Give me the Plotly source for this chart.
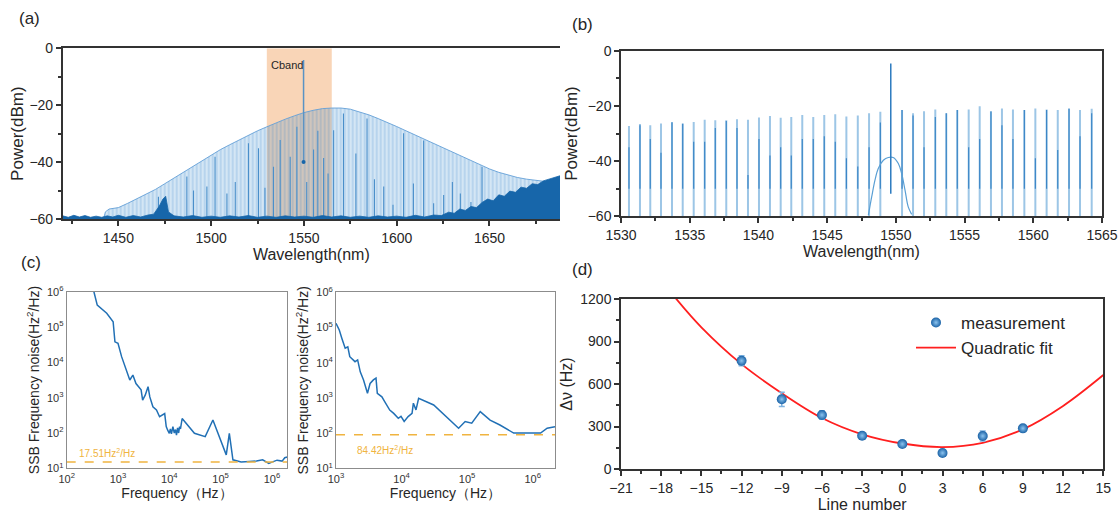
import plotly.graph_objects as go

W, H = 1120, 515
FONT = "Liberation Sans, Arial, Helvetica, sans-serif"
INK = "#262626"

# ---------------- (a) broadband comb spectrum ----------------
a_xticks = [1450, 1500, 1550, 1600, 1650]
cband = [1530, 1565]
a_floor = -60
a_env_wl = [1442, 1443, 1445, 1450, 1455, 1460, 1465, 1470, 1475, 1480, 1485, 1490, 1495,
            1500, 1505, 1510, 1515, 1520, 1525, 1530, 1535, 1540, 1545, 1550, 1555, 1560,
            1565, 1570, 1575, 1580, 1585, 1590, 1595, 1600, 1605, 1610, 1615, 1620, 1625,
            1630, 1635, 1640, 1645, 1650, 1655, 1660, 1665, 1670, 1675, 1680, 1681]
a_env_pw = [-60, -57.5, -56.5, -56, -54.5, -52.8, -51.2, -49.6, -47.6, -45.6, -43.4, -41.3, -39.3,
            -37.4, -35.6, -33.9, -32.2, -30.5, -29, -27.6, -26.2, -24.9, -23.7, -22.6, -21.8, -21.2,
            -21.0, -21.0, -21.4, -22.3, -23.4, -24.7, -26.0, -27.5, -29.0, -30.5, -32.0, -33.5, -35.0,
            -36.6, -38.1, -39.6, -41.0, -42.4, -43.6, -44.6, -45.4, -46.0, -46.5, -46.8, -60]
a_dark_wl = [1471.6, 1474.3, 1486.9, 1490.5, 1497.7, 1502.1, 1508.5, 1513.0, 1520.1, 1525.5,
             1529.0, 1533.6, 1537.2, 1542.6, 1546.2, 1551.5, 1555.2, 1557.5, 1560.6, 1563.0,
             1566.0, 1571.3, 1578.0, 1584.0, 1588.0, 1593.0, 1598.0, 1603.7, 1609.0, 1614.5,
             1619.9, 1625.3, 1630.0, 1634.3, 1640.0, 1646.0]
a_dark_pw = [-52.2, -53.3, -45.1, -50.0, -48.6, -38.1, -51.0, -47.0, -33.4, -35.1,
             -49.0, -41.6, -32.2, -38.1, -27.6, -47.0, -35.6, -29.0, -38.6, -44.0,
             -28.8, -22.9, -37.0, -24.7, -46.0, -48.6, -55.0, -29.9, -47.5, -32.4,
             -54.5, -51.6, -47.0, -51.0, -54.0, -41.6]
a_noise_wl = [1420, 1423, 1426, 1429, 1432, 1435, 1438, 1441, 1444, 1447,
              1450, 1454, 1458, 1462, 1466, 1469, 1472, 1474, 1475.5, 1477,
              1480, 1485, 1490, 1495, 1500, 1505, 1510, 1515, 1520, 1525,
              1530, 1535, 1540, 1545, 1550, 1555, 1560, 1565, 1570, 1575,
              1580, 1585, 1590, 1595, 1600, 1605, 1610, 1615, 1620,
              1624, 1628, 1631, 1634, 1637, 1640, 1643, 1646, 1649, 1652,
              1655, 1658, 1661, 1664, 1667, 1670, 1673, 1676, 1679, 1682, 1685, 1688]
a_noise_pw = [-58.9, -59.4, -58.7, -59.3, -58.8, -59.4, -59.0, -59.4, -58.9, -59.3,
              -58.7, -59.4, -58.8, -59.3, -58.6, -58.3, -55.5, -53.0, -52.0, -57.5,
              -58.9, -59.3, -58.8, -59.4, -59.0, -59.4, -58.9, -59.3, -58.8, -59.4,
              -59.0, -59.4, -58.9, -59.3, -59.0, -59.4, -58.8, -59.3, -58.9, -59.4,
              -59.0, -59.4, -58.9, -59.3, -59.0, -59.4, -58.7, -59.3, -58.6,
              -58.8, -57.6, -58.0, -56.5, -57.0, -55.6, -56.0, -54.2, -53.0, -53.6,
              -51.5, -52.0, -50.2, -50.6, -48.8, -49.2, -47.6, -47.9, -46.6, -46.0, -45.5, -44.8]
a_pump_wl = 1549.8
a_pump_pw = [-40, -4.1]

# ---------------- (b) C-band zoom ----------------
b_wl = [1530.58, 1531.38, 1532.13, 1532.91, 1533.71, 1534.49, 1535.29, 1536.09, 1536.86, 1537.66,
        1538.44, 1539.24, 1540.04, 1540.84, 1541.62, 1542.39, 1543.19, 1543.99, 1544.79, 1545.59,
        1546.40, 1547.23, 1548.05, 1548.87, 1550.45, 1551.25, 1552.05, 1552.87, 1553.67, 1554.47,
        1555.30, 1556.10, 1556.92, 1557.72, 1558.52, 1559.35, 1560.15, 1560.97, 1561.78, 1562.60,
        1563.40, 1564.25]
b_peak = [-27.3, -26.6, -27.0, -26.4, -25.8, -26.4, -25.8, -25.0, -25.2, -25.2,
          -24.8, -25.0, -24.2, -23.7, -24.3, -24.0, -23.3, -24.0, -23.3, -23.0,
          -23.8, -23.5, -22.7, -22.1, -21.5, -22.7, -21.9, -21.3, -22.7, -21.5,
          -21.3, -20.1, -21.9, -20.9, -21.3, -21.5, -20.9, -21.3, -21.5, -20.9,
          -21.5, -21.0]
b_dark = [-35, -27, -32, -37, -26, -26.5, -33, -33, -28, -25.5,
          -28, -45, -32, -38, -35, -38, -32, -32, -31, -33,
          -39, -42, -35, -26, -21.5, -23.5, -35, -24, -22.7, -21.5,
          -35, -32, -22, -27, -32, -21.5, -39, -21.5, -36, -21,
          -31, -22.7]
b_dark_floor = -50
b_pump_wl = 1549.63
b_pump_pw = [-51.8, -4.6]
b_dome_wl = [1548.0, 1548.24, 1548.48, 1548.72, 1549.09, 1549.45, 1549.81, 1550.18, 1550.42,
             1550.67, 1550.9, 1551.15]
b_dome_pw = [-59.6, -53.0, -46.9, -42.7, -39.7, -38.7, -38.7, -40.9, -44.5, -50.6, -56.6, -59.3]

# ---------------- (c) SSB frequency noise ----------------
c_ticktext = ["10<sup>1</sup>", "10<sup>2</sup>", "10<sup>3</sup>", "10<sup>4</sup>",
              "10<sup>5</sup>", "10<sup>6</sup>"]
c_tickvals = [1e1, 1e2, 1e3, 1e4, 1e5, 1e6]
c1_freq = [339, 394, 603, 804, 871, 1000, 1175, 1462, 1698, 1950, 2240, 2820, 3020, 3390, 3850,
           4170, 4790, 5620, 6460, 8130, 8710, 9300, 10000, 10500, 11000, 11750, 12500, 13200,
           13800, 14500, 15200, 15850, 16500, 17800, 30900, 50100, 70800, 128800, 147900,
           173800, 251000, 363000, 500000, 660000, 871000, 1000000, 1260000, 1580000, 1780000,
           2000000]
c1_noise = [1e6, 4.17e5, 2.45e5, 1.41e5, 3.8e4, 3.47e4, 1.45e4, 6030, 3160, 4370, 2510, 1660, 851,
            1175, 2040, 1050, 550, 447, 288, 355, 151, 120, 98, 130, 95, 151, 100, 125,
            87, 140, 100, 151, 130, 257, 98, 79, 234, 24, 98,
            17.4, 15, 15.5, 16, 17.4, 13.8, 15, 17, 16, 20,
            21]
c1_floor = 15
c2_freq = [1000, 1122, 1230, 1380, 1514, 1622, 1950, 2138, 2344, 2630, 3020, 3311, 3715, 4074, 4266,
           5012, 5500, 5888, 6600, 7586, 8913, 9800, 10960, 12590, 14450, 15140, 16600, 18200,
           30900, 74100, 93300, 117500, 158500, 223900, 316200, 512900, 812800, 1318000,
           1660000, 2188000]
c2_noise = [1.32e5, 8.5e4, 4.9e4, 2.57e4, 2.82e4, 1.48e4, 1.07e4, 1.2e4, 5500, 3240, 1350, 2570,
            3240, 3630, 1350, 1070, 800, 630, 450, 363, 263, 300, 214, 295, 363, 708, 457, 977,
            630, 138, 214, 191, 407, 234, 170, 100, 100, 100, 138, 151]
c2_floor = 90

# ---------------- (d) linewidth vs line number ----------------
d_line = [-12, -9, -6, -3, 0, 3, 6, 9]
d_dv = [764, 492, 381, 235, 176, 113, 233, 287]
d_err = [35, 50, 30, 15, 12, 20, 35, 15]
d_fit_x = [-17, -15, -12, -9, -6, -3, 0, 3, 6, 9, 12, 15]
d_fit_y = [1215, 1000, 740, 535, 360, 245, 180, 155, 185, 280, 445, 663]


def stems(xs, tops, bottom):
    x, y = [], []
    for xi, t in zip(xs, tops):
        x += [xi, xi, None]
        y += [bottom, t, None]
    return x, y


fig = go.Figure()

# ---- (a) ----
fig.add_trace(go.Scatter(x=[a_env_wl[0], a_env_wl[-1]], y=[a_floor, a_floor], mode="lines",
                         line=dict(width=0), xaxis="x", yaxis="y", hoverinfo="skip"))
fig.add_trace(go.Scatter(x=a_env_wl, y=a_env_pw, mode="lines",
                         line=dict(color="rgba(100,160,215,0.9)", width=1),
                         fill="tonexty", fillcolor="rgba(0,0,0,0)",
                         fillpattern=dict(shape="|", fgcolor="rgba(55,135,205,0.72)",
                                          bgcolor="rgba(0,0,0,0)", size=4, solidity=0.8),
                         xaxis="x", yaxis="y", hoverinfo="skip"))
sx, sy = stems(a_dark_wl, a_dark_pw, a_floor)
fig.add_trace(go.Scatter(x=sx, y=sy, mode="lines", line=dict(color="#4a8fca", width=1.1),
                         xaxis="x", yaxis="y", hoverinfo="skip"))
fig.add_trace(go.Scatter(x=[a_pump_wl, a_pump_wl], y=a_pump_pw, mode="lines",
                         line=dict(color="#5a93c4", width=1.5), xaxis="x", yaxis="y"))
fig.add_trace(go.Scatter(x=[a_noise_wl[0], a_noise_wl[-1]], y=[a_floor, a_floor], mode="lines",
                         line=dict(width=0), xaxis="x", yaxis="y", hoverinfo="skip"))
fig.add_trace(go.Scatter(x=a_noise_wl, y=a_noise_pw, mode="lines",
                         line=dict(color="#1766aa", width=0.8), fill="tonexty",
                         fillcolor="#1766aa", xaxis="x", yaxis="y", hoverinfo="skip"))
fig.add_trace(go.Scatter(x=[a_pump_wl], y=[a_pump_pw[0]], mode="markers",
                         marker=dict(color="#1766aa", size=4), xaxis="x", yaxis="y"))

# ---- (b) ----
sx, sy = stems(b_wl, b_peak, -60)
fig.add_trace(go.Scatter(x=sx, y=sy, mode="lines", line=dict(color="#9dc6e6", width=2),
                         xaxis="x2", yaxis="y2", hoverinfo="skip"))
sx, sy = stems(b_wl, b_dark, b_dark_floor)
fig.add_trace(go.Scatter(x=sx, y=sy, mode="lines", line=dict(color="#3582c4", width=1.1),
                         xaxis="x2", yaxis="y2", hoverinfo="skip"))
fig.add_trace(go.Scatter(x=b_dome_wl, y=b_dome_pw, mode="lines", line_shape="spline",
                         line=dict(color="#5a9fd4", width=1.2), xaxis="x2", yaxis="y2"))
fig.add_trace(go.Scatter(x=[b_pump_wl, b_pump_wl], y=b_pump_pw, mode="lines",
                         line=dict(color="#2c7bbf", width=1.5), xaxis="x2", yaxis="y2"))

# ---- (c) ----
NOISE = "#2170b5"
GOLD = "#f0b440"
fig.add_trace(go.Scatter(x=c1_freq, y=c1_noise, mode="lines", line=dict(color=NOISE, width=1.5),
                         xaxis="x3", yaxis="y3"))
fig.add_trace(go.Scatter(x=[1e2, 2e6], y=[c1_floor, c1_floor], mode="lines",
                         line=dict(color=GOLD, width=1.5, dash="dash"), xaxis="x3", yaxis="y3"))
fig.add_trace(go.Scatter(x=c2_freq, y=c2_noise, mode="lines", line=dict(color=NOISE, width=1.5),
                         xaxis="x4", yaxis="y4"))
fig.add_trace(go.Scatter(x=[1e3, 2.2e6], y=[c2_floor, c2_floor], mode="lines",
                         line=dict(color=GOLD, width=1.5, dash="dash"), xaxis="x4", yaxis="y4"))

# ---- (d) ----
fig.add_trace(go.Scatter(x=d_fit_x, y=d_fit_y, mode="lines", line_shape="spline",
                         line=dict(color="#ff1f1f", width=1.8), name="Quadratic fit",
                         showlegend=True, xaxis="x5", yaxis="y5"))
fig.add_trace(go.Scatter(x=d_line, y=d_dv, mode="markers", name="measurement",
                         marker=dict(color="#1a62a6", size=10,
                                     gradient=dict(type="radial", color="#8cc4ef")),
                         error_y=dict(type="data", array=d_err, color="#7fb3e0",
                                      thickness=1.5, width=3),
                         showlegend=True, xaxis="x5", yaxis="y5"))

for tr in fig.data:
    if tr.name not in ("Quadratic fit", "measurement"):
        tr.showlegend = False


def dom_x(a, b):
    return [a / W, b / W]


def dom_y(top, bottom):
    return [1 - bottom / H, 1 - top / H]


def lin_axis(**kw):
    d = dict(showline=True, linecolor="#333333", linewidth=1.5, ticks="outside", ticklen=5,
             tickwidth=1.5, tickcolor="#333333", showgrid=False, zeroline=False,
             automargin=False, tickfont=dict(family=FONT, size=14, color=INK))
    d.update(kw)
    return d


def log_axis(**kw):
    d = dict(type="log", showline=True, linecolor="#8c8c8c", linewidth=1, mirror=True,
             ticks="", showgrid=False, zeroline=False, tickvals=c_tickvals, ticktext=c_ticktext,
             automargin=False, tickfont=dict(family=FONT, size=11, color="#333333"))
    d.update(kw)
    return d


layout = dict(
    width=W, height=H, margin=dict(l=0, r=0, t=0, b=0, pad=0), autosize=False,
    paper_bgcolor="white", plot_bgcolor="white",
    font=dict(family=FONT, color=INK),
    xaxis=lin_axis(domain=dom_x(62.7, 560), range=[1420, 1688], anchor="y", mirror=True,
                   tickvals=a_xticks, minor=dict(ticks="outside", ticklen=3, dtick=25, tick0=1425,
                                                 tickcolor="#333333"),
                   title=dict(text="Wavelength(nm)", font=dict(size=16), standoff=2)),
    yaxis=lin_axis(domain=dom_y(48.3, 219), range=[-60, 0], anchor="x", dtick=20,
                   minor=dict(ticks="outside", ticklen=3, dtick=10, tickcolor="#333333"),
                   title=dict(text="Power(dBm)", font=dict(size=17), standoff=1)),
    xaxis2=lin_axis(domain=dom_x(621, 1102), range=[1530, 1565], anchor="y2", mirror=True,
                    dtick=5, minor=dict(ticks="outside", ticklen=3, dtick=2.5, tickcolor="#333333"),
                    title=dict(text="Wavelength(nm)", font=dict(size=16), standoff=2)),
    yaxis2=lin_axis(domain=dom_y(50.7, 216.3), range=[-60, 0], anchor="x2", mirror=True, dtick=20,
                    minor=dict(ticks="outside", ticklen=3, dtick=10, tickcolor="#333333"),
                    title=dict(text="Power(dBm)", font=dict(size=17), standoff=6)),
    xaxis3=log_axis(domain=dom_x(66.7, 287.3), range=[2, 6.3], anchor="y3",
                    title=dict(text="Frequency（Hz）", font=dict(size=14), standoff=4)),
    yaxis3=log_axis(domain=dom_y(291.7, 468.3), range=[1, 6], anchor="x3",
                    title=dict(text="SSB Frequency noise(Hz<sup>2</sup>/Hz)", font=dict(size=14),
                               standoff=4)),
    xaxis4=log_axis(domain=dom_x(336, 555), range=[3, 6.34], anchor="y4",
                    title=dict(text="Frequency（Hz）", font=dict(size=14), standoff=4)),
    yaxis4=log_axis(domain=dom_y(292.3, 468.3), range=[1, 6], anchor="x4",
                    title=dict(text="SSB Frequency noise(Hz<sup>2</sup>/Hz)", font=dict(size=14),
                               standoff=4)),
    xaxis5=lin_axis(domain=dom_x(621, 1103.3), range=[-21, 15], anchor="y5", mirror=True,
                    dtick=3, tick0=0, minor=dict(ticks="outside", ticklen=3, dtick=1.5,
                                                 tickcolor="#333333"),
                    title=dict(text="Line number", font=dict(size=16), standoff=2)),
    yaxis5=lin_axis(domain=dom_y(299, 469), range=[0, 1200], anchor="x5", mirror=True,
                    dtick=300, minor=dict(ticks="outside", ticklen=3, dtick=150,
                                          tickcolor="#333333"),
                    title=dict(text="Δν (Hz)", font=dict(size=16), standoff=4)),
    legend=dict(x=911 / W, y=1 - 305 / H, xanchor="left", yanchor="top",
                bgcolor="rgba(0,0,0,0)", font=dict(family=FONT, size=17, color=INK),
                itemwidth=40, tracegroupgap=0, traceorder="reversed"),
    shapes=[dict(type="rect", xref="x", yref="y", x0=cband[0], x1=cband[1], y0=-60, y1=0,
                 fillcolor="#f9d5b7", line=dict(width=0), layer="below")],
)

ann = [
    dict(text="(a)", x=17 / W, y=1 - 18 / H),
    dict(text="(b)", x=570 / W, y=1 - 25 / H),
    dict(text="(c)", x=19 / W, y=1 - 262 / H),
    dict(text="(d)", x=570 / W, y=1 - 269 / H),
]
annotations = []
for a in ann:
    annotations.append(dict(text=a["text"], x=a["x"], y=a["y"], xref="paper", yref="paper",
                            xanchor="left", yanchor="middle", showarrow=False,
                            font=dict(family=FONT, size=17, color=INK)))
annotations.append(dict(text="Cband", x=1531, y=-5.8, xref="x", yref="y", xanchor="left",
                        yanchor="middle", showarrow=False,
                        font=dict(family=FONT, size=11, color=INK)))
annotations.append(dict(text="17.51Hz<sup>2</sup>/Hz", x=2.2, y=1.44, xref="x3", yref="y3",
                        xanchor="left", yanchor="middle", showarrow=False,
                        font=dict(family=FONT, size=10, color=GOLD)))
annotations.append(dict(text="84.42Hz<sup>2</sup>/Hz", x=3.29, y=1.52, xref="x4", yref="y4",
                        xanchor="left", yanchor="middle", showarrow=False,
                        font=dict(family=FONT, size=10, color=GOLD)))
layout["annotations"] = annotations

fig.update_layout(**layout)
fig.write_html("out.html", config={"displayModeBar": False},
               post_script="document.body.style.margin='0';document.body.style.padding='0';"
                           "document.documentElement.style.overflow='hidden';")
